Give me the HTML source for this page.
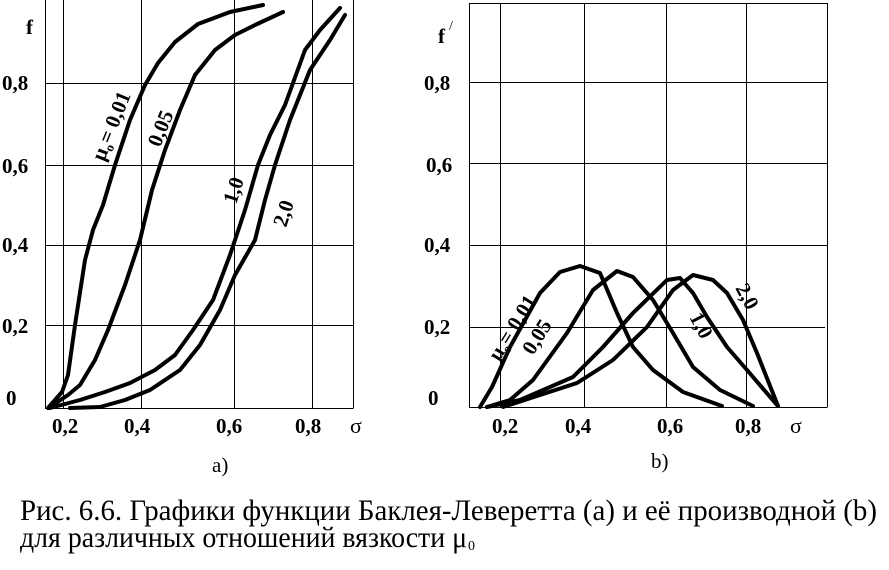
<!DOCTYPE html>
<html><head><meta charset="utf-8"><style>
html,body{margin:0;padding:0;background:#fff;}
svg{display:block;}
text{font-family:"Liberation Serif","Times New Roman","DejaVu Serif",serif;fill:#000;}
.t{font-size:21px;font-weight:bold;}
.c{fill:none;stroke:#000;stroke-width:4;stroke-linejoin:round;stroke-linecap:round;}
.g{stroke:#000;stroke-width:1;fill:none;}
</style></head><body>
<svg width="889" height="570" viewBox="0 0 889 570" xmlns="http://www.w3.org/2000/svg" font-family="Liberation Serif, serif">
<g class="g">
<line x1="45.5" y1="0" x2="45.5" y2="408.5"/>
<line x1="45" y1="408.5" x2="353" y2="408.5"/>
<line x1="353.5" y1="0" x2="353.5" y2="408.5"/>
<line x1="63.5" y1="0" x2="63.5" y2="408"/>
<line x1="141.5" y1="0" x2="141.5" y2="408"/>
<line x1="234.5" y1="0" x2="234.5" y2="408"/>
<line x1="312.5" y1="0" x2="312.5" y2="408"/>
<line x1="45" y1="83.5" x2="353" y2="83.5"/>
<line x1="45" y1="165.5" x2="353" y2="165.5"/>
<line x1="45" y1="245.5" x2="353" y2="245.5"/>
<line x1="45" y1="325.5" x2="353" y2="325.5"/>
</g>
<polyline class="c" points="48,408 62,392 68,375 75,325 85,260 93,230 103,205 115,165 130,120 145,85 158,63 175,42 198,24 230,12 263,5"/>
<polyline class="c" points="50,407 68,395 80,385 95,360 108,330 125,285 140,240 152,190 165,150 180,110 195,75 215,50 235,35 255,25 283,12"/>
<polyline class="c" points="50,408 80,400 105,392 130,383 155,370 175,355 193,330 213,300 230,255 245,210 258,165 270,135 285,105 305,50 320,30 340,8"/>
<polyline class="c" points="70,408 100,407 125,400 150,390 180,370 200,345 220,310 235,275 255,240 265,200 275,165 290,120 310,70 330,40 345,15"/>
<text class="t" x="26" y="34">f</text>
<text class="t" x="2" y="90">0,8</text>
<text class="t" x="2" y="173">0,6</text>
<text class="t" x="2" y="252">0,4</text>
<text class="t" x="2" y="333">0,2</text>
<text class="t" x="6" y="405">0</text>
<text class="t" x="52" y="433">0,2</text>
<text class="t" x="124" y="433">0,4</text>
<text class="t" x="216" y="433">0,6</text>
<text class="t" x="295" y="433">0,8</text>
<text x="350" y="433" style="font-size:22px">σ</text>
<text x="212" y="472" style="font-size:21px">a)</text>
<text class="t" transform="translate(104,162) rotate(-68)">μ<tspan font-size="13" dy="4">o</tspan><tspan dy="-4">= 0,01</tspan></text>
<text class="t" transform="translate(160,148) rotate(-68)">0,05</text>
<text class="t" transform="translate(236,205) rotate(-72)">1,0</text>
<text class="t" transform="translate(286,228) rotate(-72)">2,0</text>
<g class="g">
<line x1="469.5" y1="3" x2="469.5" y2="407.5"/>
<line x1="469" y1="3.5" x2="827" y2="3.5"/>
<line x1="469" y1="407.5" x2="827" y2="407.5"/>
<line x1="827.5" y1="3" x2="827.5" y2="407.5"/>
<line x1="500.5" y1="3" x2="500.5" y2="407"/>
<line x1="584.5" y1="3" x2="584.5" y2="407"/>
<line x1="666.5" y1="3" x2="666.5" y2="407"/>
<line x1="746.5" y1="3" x2="746.5" y2="407"/>
<line x1="469" y1="82.5" x2="827" y2="82.5"/>
<line x1="469" y1="163.5" x2="827" y2="163.5"/>
<line x1="469" y1="245.5" x2="827" y2="245.5"/>
<line x1="469" y1="327.5" x2="825" y2="327.5"/>
</g>
<polyline class="c" points="480,407 492,387 510,347 540,293 560,272 580,266 600,273 617,313 633,347 653,370 683,392 722,406"/>
<polyline class="c" points="487,407 510,400 533,380 567,333 593,290 617,271 633,277 653,300 673,333 693,367 720,390 753,406"/>
<polyline class="c" points="487,407 520,400 573,377 603,347 633,313 667,280 680,278 693,293 707,317 727,347 747,370 777,405"/>
<polyline class="c" points="503,407 577,383 613,360 647,327 673,290 693,275 713,280 727,293 743,320 757,353 778,406"/>
<text class="t" x="438" y="43">f</text>
<text x="449" y="30" style="font-size:14px">/</text>
<text class="t" x="424" y="90">0,8</text>
<text class="t" x="426" y="172">0,6</text>
<text class="t" x="424" y="252">0,4</text>
<text class="t" x="424" y="334">0,2</text>
<text class="t" x="428" y="405">0</text>
<text class="t" x="492" y="433">0,2</text>
<text class="t" x="565" y="433">0,4</text>
<text class="t" x="657" y="433">0,6</text>
<text class="t" x="735" y="433">0,8</text>
<text x="790" y="433" style="font-size:22px">σ</text>
<text x="651" y="468" style="font-size:21px">b)</text>
<text class="t" transform="translate(499,362) rotate(-58)">μ<tspan font-size="13" dy="4">o</tspan><tspan dy="-4">= 0,01</tspan></text>
<text class="t" transform="translate(533,356) rotate(-58)">0,05</text>
<text class="t" transform="translate(689,317) rotate(62)">1,0</text>
<text class="t" transform="translate(735,288) rotate(62)">2,0</text>
<text x="20" y="520" style="font-size:30px" textLength="857" lengthAdjust="spacingAndGlyphs">Рис. 6.6. Графики функции Баклея-Леверетта (a) и её производной (b)</text>
<text x="20" y="547" style="font-size:30px" textLength="447" lengthAdjust="spacingAndGlyphs">для различных отношений вязкости μ</text>
<text x="468" y="550" style="font-size:14px">0</text>
</svg>
</body></html>
